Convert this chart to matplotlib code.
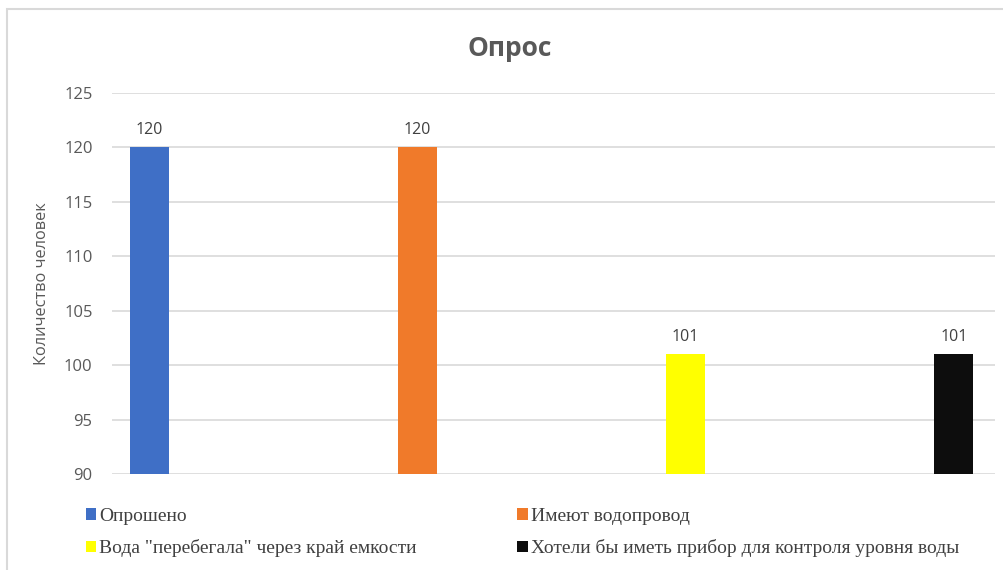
import matplotlib.pyplot as plt
from matplotlib.patches import Patch, Rectangle

# survey results
labels = ['Опрошено', 'Имеют водопровод', 'Вода "перебегала" через край емкости',
          'Хотели бы иметь прибор для контроля уровня воды']
values = [120, 120, 101, 101]
colors = ['#3F6FC6', '#F07A2A', '#FFFF00', '#0D0D0D']
yticks = [90, 95, 100, 105, 110, 115, 120, 125]

plt.rcParams['font.family'] = ['Open Sans', 'DejaVu Sans']

fig = plt.figure(figsize=(10.04, 5.70), dpi=100)
fig.patches.append(Rectangle((7 / 1004, -0.1), 1.1, 1 - 9 / 570 + 0.1, transform=fig.transFigure,
                             fill=False, edgecolor='#D9D9D9', linewidth=1.5))

ax = fig.add_axes([0.1116, 0.1684, 0.8794, 0.6686])
x = range(len(values))
bars = ax.bar(x, values, width=0.145, color=colors, zorder=3)
ax.set_ylim(90, 125)
ax.set_xlim(-0.138, 3.153)
ax.set_yticks(yticks)
ax.set_xticks([])
ax.tick_params(axis='y', length=0, pad=14, labelsize=12, labelcolor='#595959')
ax.grid(axis='y', color='#D9D9D9', linewidth=1.2, zorder=0)
for s in ax.spines.values():
    s.set_visible(False)

for b, v in zip(bars, values):
    ax.annotate(str(v), xy=(b.get_x() + b.get_width() / 2, v), xytext=(0, 7),
                textcoords='offset points', ha='center', va='bottom',
                fontsize=11.5, color='#404040')

ax.set_ylabel('Количество человек', fontsize=11.8, color='#595959')
ax.yaxis.set_label_coords(-0.07, 0.5)

fig.text(0.508, 0.915, 'Опрос', ha='center', va='center', fontsize=19,
         fontweight='bold', color='#595959')

# legend is filled row by row: two entries per row
order = [0, 2, 1, 3]
handles = [Patch(facecolor=colors[i]) for i in order]
fig.legend(handles, [labels[i] for i in order], ncol=2, loc='upper left',
           bbox_to_anchor=(0.068, 0.14), frameon=False, handlelength=0.55,
           handleheight=0.55, handletextpad=0.15, columnspacing=5.15, labelspacing=0.75,
           prop={'family': 'Liberation Serif', 'size': 14}, labelcolor='#404040')

fig.savefig('out.png', dpi=100)
